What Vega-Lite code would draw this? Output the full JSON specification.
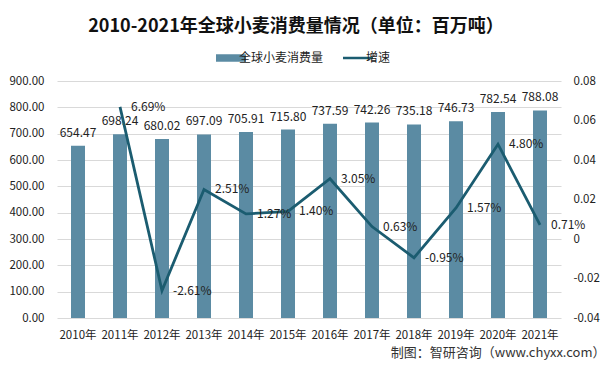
{
  "$schema": "https://vega.github.io/schema/vega-lite/v6.json",
  "width": 504,
  "height": 237,
  "autosize": {"type": "none"},
  "padding": {"left": 57, "top": 81, "right": 47, "bottom": 48},
  "background": "white",
  "config": {
    "font": "Noto Sans CJK SC",
    "view": {"stroke": null}
  },
  "title": {
    "text": "2010-2021年全球小麦消费量情况（单位：百万吨）",
    "fontSize": 18,
    "fontWeight": "bold",
    "color": "#111111",
    "anchor": "middle",
    "dx": -13,
    "offset": 16
  },
  "data": {
    "values": [
      {"year": "2010年", "consumption": 654.47, "growth": null},
      {"year": "2011年", "consumption": 698.24, "growth": 0.0669},
      {"year": "2012年", "consumption": 680.02, "growth": -0.0261},
      {"year": "2013年", "consumption": 697.09, "growth": 0.0251},
      {"year": "2014年", "consumption": 705.91, "growth": 0.0127},
      {"year": "2015年", "consumption": 715.80, "growth": 0.0140},
      {"year": "2016年", "consumption": 737.59, "growth": 0.0305},
      {"year": "2017年", "consumption": 742.26, "growth": 0.0063},
      {"year": "2018年", "consumption": 735.18, "growth": -0.0095},
      {"year": "2019年", "consumption": 746.73, "growth": 0.0157},
      {"year": "2020年", "consumption": 782.54, "growth": 0.0480},
      {"year": "2021年", "consumption": 788.08, "growth": 0.0071}
    ]
  },
  "encoding": {
    "x": {
      "field": "year",
      "type": "nominal",
      "sort": null,
      "scale": {"paddingInner": 0, "paddingOuter": 0},
      "axis": {
        "title": "制图：智研咨询（www.chyxx.com）",
        "titleFontSize": 13,
        "titleFontWeight": "normal",
        "titleColor": "#333333",
        "titleAnchor": "end",
        "titleAlign": "right",
        "titleX": 548,
        "titleY": 34,
        "titleBaseline": "middle",
        "labelAngle": 0,
        "labelFontSize": 11.5,
        "labelColor": "#222222",
        "labelPadding": 11,
        "domain": false,
        "ticks": false
      }
    }
  },
  "layer": [
    {
      "encoding": {
        "y": {
          "field": "consumption",
          "type": "quantitative",
          "scale": {"domain": [0, 900], "nice": false},
          "axis": {
            "title": null,
            "values": [0, 100, 200, 300, 400, 500, 600, 700, 800, 900],
            "format": ".2f",
            "labelFontSize": 11.5,
            "labelColor": "#222222",
            "labelPadding": 13,
            "domain": false,
            "ticks": false,
            "grid": true,
            "gridColor": "#d9d9d9",
            "gridWidth": 1
          }
        }
      },
      "layer": [
        {
          "mark": {"type": "bar", "size": 14},
          "encoding": {
            "color": {
              "datum": "全球小麦消费量",
              "type": "nominal",
              "scale": {"domain": ["全球小麦消费量", "增速"], "range": ["#5b8ba3", "#1b5c70"]},
              "legend": {
                "orient": "none",
                "legendX": 168,
                "legendY": -29,
                "direction": "horizontal",
                "title": null,
                "labelFontSize": 12,
                "labelColor": "#222222",
                "symbolSize": 900,
                "columnPadding": 14,
                "labelOffset": 2,
                "encode": {
                  "symbols": {
                    "update": {
                      "shape": {"signal": "datum.value === '增速' ? 'M-1,0H1' : 'M-1,-0.25H1V0.25H-1Z'"},
                      "fill": {"signal": "datum.value === '增速' ? 'transparent' : '#5b8ba3'"},
                      "stroke": {"signal": "datum.value === '增速' ? '#1b5c70' : 'transparent'"},
                      "strokeWidth": {"signal": "datum.value === '增速' ? 2.5 : 0"},
                      "opacity": {"value": 1}
                    }
                  }
                }
              }
            }
          }
        },
        {
          "mark": {"type": "text", "fontSize": 12, "color": "#222222", "baseline": "middle", "dy": -13},
          "encoding": {
            "text": {"field": "consumption", "type": "quantitative", "format": ".2f"}
          }
        }
      ]
    },
    {
      "encoding": {
        "y": {
          "field": "growth",
          "type": "quantitative",
          "scale": {"domain": [-0.04, 0.08], "nice": false},
          "axis": {
            "orient": "right",
            "title": null,
            "values": [-0.04, -0.02, 0, 0.02, 0.04, 0.06, 0.08],
            "labelExpr": "datum.value == 0 ? '0' : replace(format(datum.value, '.2f'), '−', '-')",
            "labelFontSize": 11.5,
            "labelColor": "#222222",
            "labelPadding": 12,
            "domain": false,
            "ticks": false,
            "grid": false
          }
        }
      },
      "layer": [
        {
          "mark": {"type": "line", "strokeWidth": 2.8},
          "encoding": {
            "color": {"datum": "增速", "type": "nominal"}
          }
        },
        {
          "mark": {
            "type": "text",
            "fontSize": 12,
            "color": "#222222",
            "align": "left",
            "baseline": "middle",
            "dx": 11,
            "text": {"expr": "replace(format(datum.growth, '.2%'), '−', '-')"}
          },
          "encoding": {}
        }
      ]
    }
  ],
  "resolve": {"scale": {"y": "independent"}}
}
